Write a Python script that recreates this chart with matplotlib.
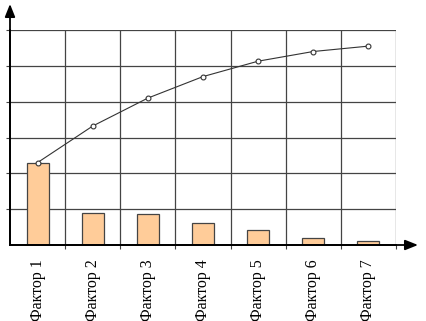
import matplotlib.pyplot as plt
import numpy as np

# dati
factors = ['Фактор 1', 'Фактор 2', 'Фактор 3', 'Фактор 4', 'Фактор 5', 'Фактор 6', 'Фактор 7']
bar_values = [2.3, 0.88, 0.87, 0.61, 0.42, 0.2, 0.12]
cum_values = [2.3, 3.32, 4.1, 4.7, 5.13, 5.4, 5.55]

fig = plt.figure(figsize=(4.26, 3.21), dpi=100)
W, H = 426.0, 321.0
x0, x1 = 10, 396
y0, y1 = 245, 30
ax = fig.add_axes([x0 / W, 1 - y0 / H, (x1 - x0) / W, (y0 - y1) / H])

pos = np.arange(len(factors)) + 0.5
ax.bar(pos, bar_values, width=0.4, color='#FFCC99', edgecolor='#444444', linewidth=0.9, zorder=3)
ax.plot(pos, cum_values, color='#333333', linewidth=0.8, marker='o', markersize=3.5,
        markerfacecolor='white', markeredgecolor='#333333', markeredgewidth=0.8, zorder=4)

ax.set_xlim(0, len(factors))
ax.set_ylim(0, 6)
ax.set_xticks(np.arange(1, len(factors) + 1))
ax.set_xticklabels([])
ax.set_xticks(pos, minor=True)
ax.set_xticklabels(factors, minor=True, rotation=90, family='Liberation Serif', fontsize=11.5)
ax.tick_params(axis='x', which='minor', length=0, pad=10)
ax.tick_params(axis='x', which='major', length=3, direction='out', color='#444444')
ax.set_yticks(np.arange(1, 7))
ax.set_yticklabels([])
ax.tick_params(axis='y', length=3, direction='out', color='#444444')
ax.grid(True, which='major', color='#444444', linewidth=0.9, zorder=0)
ax.set_axisbelow(True)

for s in ['top', 'right']:
    ax.spines[s].set_visible(False)
for s in ['left', 'bottom']:
    ax.spines[s].set_linewidth(1.3)
    ax.spines[s].set_zorder(5)

# frecce degli assi
xe = (418 - x0) / ((x1 - x0) / len(factors))
ye = (y0 - 4) / ((y0 - y1) / 6.0)
style = '-|>,head_length=0.55,head_width=0.22'
ax.annotate('', xy=(xe, 0), xytext=(0, 0), annotation_clip=False,
            arrowprops=dict(arrowstyle=style, color='black', lw=1.3, mutation_scale=14, shrinkA=0, shrinkB=0))
ax.annotate('', xy=(0, ye), xytext=(0, 0), annotation_clip=False,
            arrowprops=dict(arrowstyle=style, color='black', lw=1.3, mutation_scale=14, shrinkA=0, shrinkB=0))

plt.savefig('out.png', dpi=100)
